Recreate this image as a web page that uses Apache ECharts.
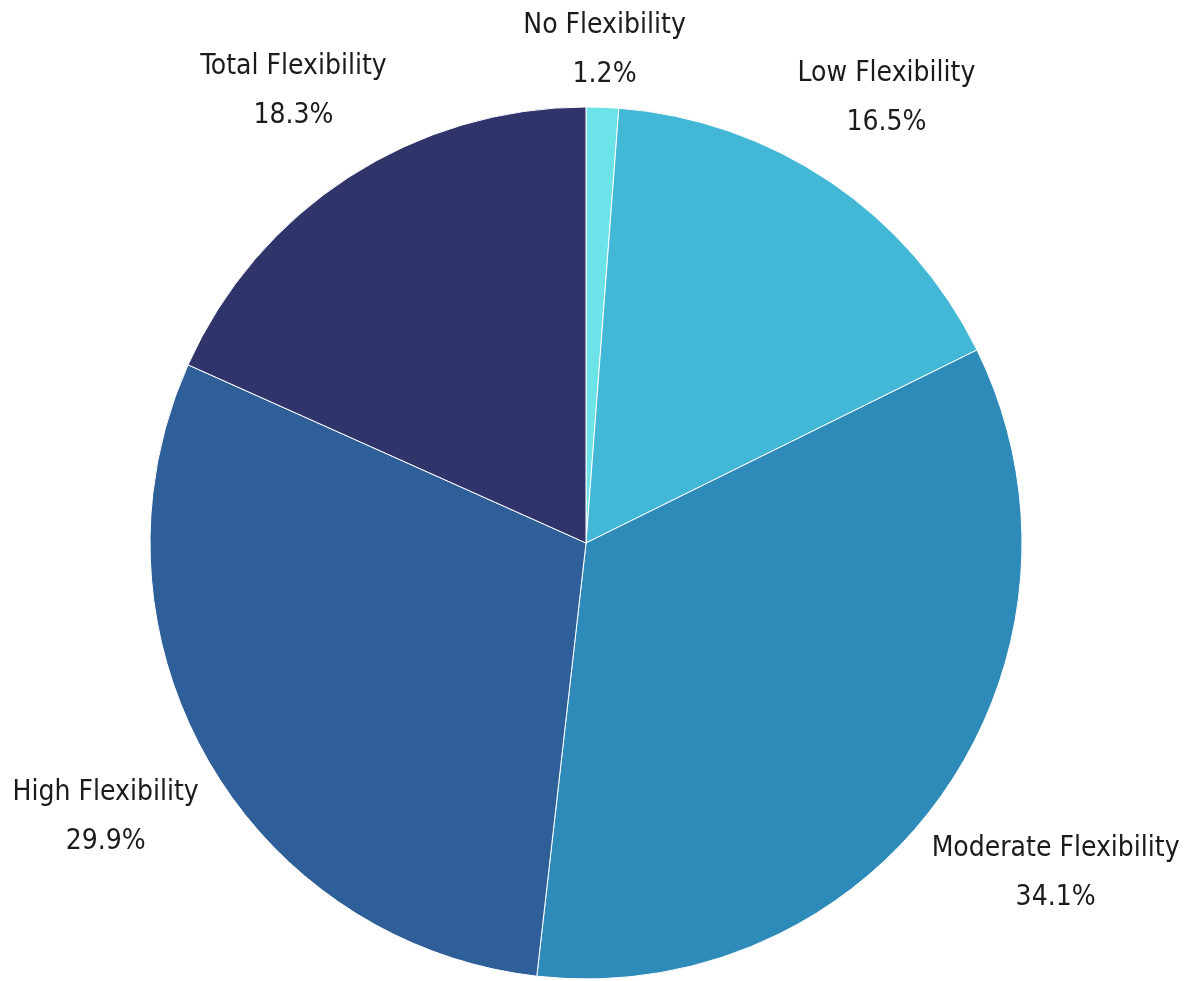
<!DOCTYPE html>
<html>
<head>
<meta charset="utf-8">
<title>Flexibility</title>
<script src="https://cdn.jsdelivr.net/npm/echarts@6/dist/echarts.min.js"></script>
<style>
  html, body { margin: 0; padding: 0; background: #ffffff; }
  #chart { width: 1187px; height: 981px; }
</style>
</head>
<body>
<div id="chart"></div>
<script>
// Share of respondents by level of flexibility (percent), clockwise from the top
const categories = ['No Flexibility', 'Low Flexibility', 'Moderate Flexibility', 'High Flexibility', 'Total Flexibility'];
const shares = [1.2, 16.5, 34.1, 29.9, 18.3];

const sliceColors = ['#6be3e8', '#42b7d6', '#2e8bb9', '#2e5f98', '#31346b'];

// Pie geometry (px) and how far each label's centre sits beyond the rim
const CENTER = [586, 543];
const RADIUS = 436;
const labelGap = [57, 101, 138, 117, 102];

const total = shares.reduce((a, b) => a + b, 0);
const midFraction = [];
let acc = 0;
shares.forEach(v => { midFraction.push((acc + v / 2) / total); acc += v; });

const chart = echarts.init(document.getElementById('chart'));
chart.setOption({
  backgroundColor: '#ffffff',
  animation: false,
  series: [{
    type: 'pie',
    center: CENTER,
    radius: RADIUS,
    startAngle: 90,
    clockwise: true,
    avoidLabelOverlap: false,
    data: categories.map((name, i) => ({
      name,
      value: shares[i],
      itemStyle: { color: sliceColors[i] }
    })),
    itemStyle: { borderColor: '#ffffff', borderWidth: 1 },
    label: {
      show: true,
      position: 'outside',
      formatter: p => p.name + '\n' + p.value.toFixed(1) + '%',
      fontFamily: '"Liberation Sans Narrow", "DejaVu Sans Condensed", sans-serif',
      fontSize: 28,
      fontWeight: 500,
      lineHeight: 49,
      color: '#1b1b1b',
      align: 'center'
    },
    labelLine: { show: false },
    labelLayout: params => {
      const i = params.dataIndex;
      const a = midFraction[i] * 2 * Math.PI;
      const d = RADIUS + labelGap[i];
      return {
        x: CENTER[0] + d * Math.sin(a),
        y: CENTER[1] - d * Math.cos(a),
        align: 'center',
        verticalAlign: 'middle'
      };
    }
  }]
});
</script>
</body>
</html>
